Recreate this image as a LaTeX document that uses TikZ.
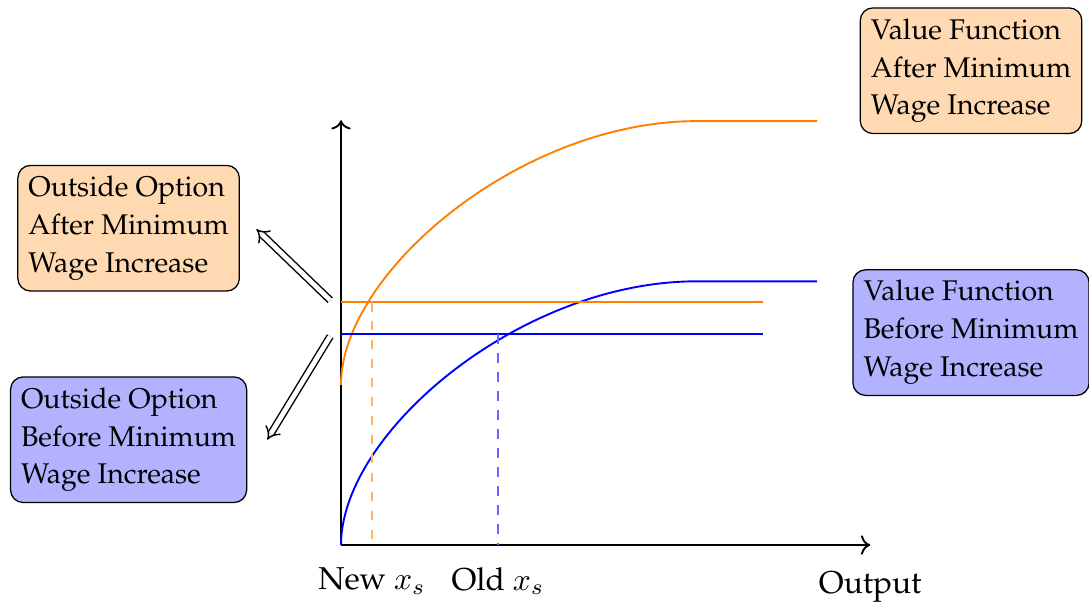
\documentclass[tikz,border=0pt]{standalone}
\usepackage[T1]{fontenc}
\usepackage{palatino}
\usetikzlibrary{arrows.meta,positioning}

\begin{document}
\begin{tikzpicture}[
  lab/.style={rectangle,rounded corners=4pt,draw=black,align=left,
              font=\fontsize{9}{12}\selectfont},
  afterbox/.style={lab,fill=orange!30},
  beforebox/.style={lab,fill=blue!30},
  axis/.style={->,semithick},
  vf/.style={semithick},
  guide/.style={dashed,semithick},
  dbl/.style={double,double distance=1.5pt,line width=0.45pt,-{Implies}}]
\useasboundingbox (-3.789,-0.667) rectangle (8.311,6.056);
% axes
\coordinate (o) at (0,0);
\coordinate (ytop) at (0,4.72);
\coordinate (xend) at (5.88,0);
\draw[axis] (o) -- (ytop);
\draw[axis] (o) -- (xend);
% value functions
\draw[vf,orange] (0,1.78) .. controls (0,3.03) and (2.0,4.71) .. (3.95,4.71) -- (5.29,4.71);
\draw[vf,blue] (0,0) .. controls (0,1.25) and (2.0,2.93) .. (3.95,2.93) -- (5.29,2.93);
% outside options
\draw[vf,orange] (0,2.70) -- (4.69,2.70);
\draw[vf,blue] (0,2.34) -- (4.69,2.34);
\draw[guide,orange!60] (0.344,2.70) -- (0.344,0);
\draw[guide,blue!60] (1.744,2.34) -- (1.744,0);
% labels
\node (newx) at (0.344,-0.40) {New $x_s$};
\node (oldx) at (1.744,-0.40) {Old $x_s$};
\node (out) at (5.88,-0.47) {Output};
\node[afterbox] (vfa) at (7.0,5.27) {Value Function\\After Minimum\\Wage Increase};
\node[beforebox] (vfb) at (7.0,2.36) {Value Function\\Before Minimum\\Wage Increase};
\node[afterbox] (ooa) at (-2.36,3.52) {Outside Option\\After Minimum\\Wage Increase};
\node[beforebox] (oob) at (-2.36,1.17) {Outside Option\\Before Minimum\\Wage Increase};
% pointers
\coordinate (sa) at (-0.12,2.72);
\coordinate (ta) at (-0.94,3.51);
\coordinate (sb) at (-0.12,2.32);
\coordinate (tb) at (-0.82,1.17);
\draw[dbl] (sa) -- (ta);
\draw[dbl] (sb) -- (tb);
\end{tikzpicture}
\end{document}
